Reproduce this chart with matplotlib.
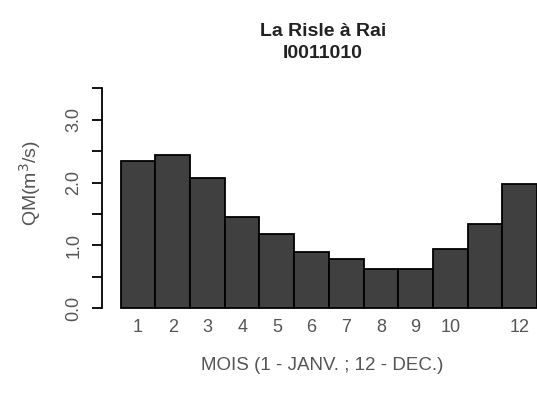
import numpy as np
import matplotlib.pyplot as plt

plt.rcParams["font.family"] = ["Liberation Sans", "DejaVu Sans"]

# monthly mean flow (m3/s)
months = np.arange(1, 13)
qm = [2.35, 2.44, 2.08, 1.46, 1.19, 0.90, 0.78, 0.62, 0.62, 0.95, 1.34, 1.97]
xtick_labels = ["1", "2", "3", "4", "5", "6", "7", "8", "9", "10", "", "12"]
yticks = [0.0, 0.5, 1.0, 1.5, 2.0, 2.5, 3.0, 3.5]
ytick_labels = ["0.0", "", "1.0", "", "2.0", "", "3.0", ""]

W, H = 537, 401
fig = plt.figure(figsize=(W / 100, H / 100), dpi=100)
ax = fig.add_axes([102 / W, 0.209, (537 - 102) / W, 0.802 - 0.209])

ax.bar(months - 0.5, qm, width=1.0, color="#404040", edgecolor="black", linewidth=1.3)
ax.set_xlim(-0.54, 12.0)
ax.set_ylim(-0.14, 3.64)

for s in ["top", "right", "bottom"]:
    ax.spines[s].set_visible(False)
ax.spines["left"].set_bounds(0, 3.5)
ax.spines["left"].set_linewidth(1.3)

ax.set_yticks(yticks)
ax.set_yticklabels(ytick_labels, rotation=90, va="center", color="#555555", fontsize=13)
ax.tick_params(axis="y", length=7.2, width=1.3, pad=7)

ax.set_xticks(months - 0.5)
ax.set_xticklabels(xtick_labels, color="#555555", fontsize=13)
ax.tick_params(axis="x", length=0, pad=1)

ax.set_xlabel("MOIS (1 - JANV. ; 12 - DEC.)", color="#555555", fontsize=13.5)
ax.xaxis.set_label_coords((322 - 102) / (537 - 102), -(365 - 317) / (317 - 79))
ax.xaxis.label.set_va("center")
ax.set_ylabel(r"QM(m$^3$/s)", color="#555555", fontsize=14)
ax.yaxis.set_label_coords(-(102 - 30) / (537 - 102), (317 - 183) / (317 - 79))
ax.yaxis.label.set_va("center")

fig.text(323 / W, 1 - 31 / H, "La Risle à Rai", ha="center", va="center",
         fontsize=14, fontweight="bold", color="#222222")
fig.text(323 / W, 1 - 53 / H, "I0011010", ha="center", va="center",
         fontsize=14, fontweight="bold", color="#222222")

fig.savefig("out.png", dpi=100)
